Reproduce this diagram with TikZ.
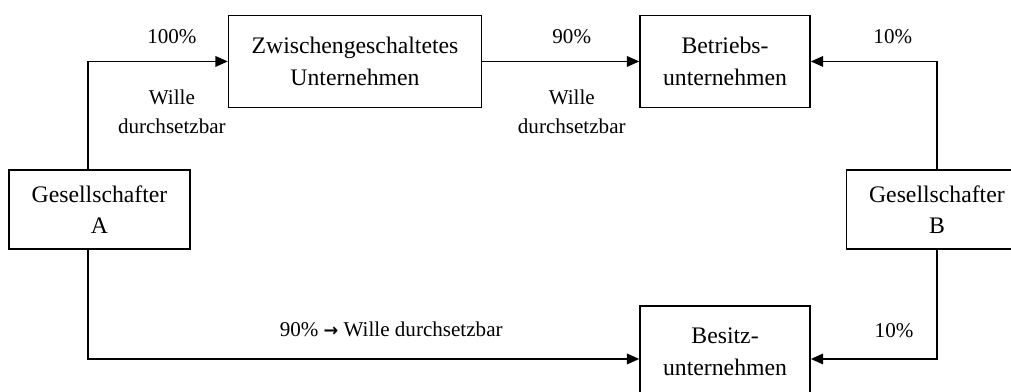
\documentclass[tikz,border=0pt]{standalone}
\usepackage{fontspec}
\setmainfont{Liberation Serif}
\newfontfamily\arrowfont{DejaVu Sans}
\usetikzlibrary{positioning,arrows.meta}

\begin{document}
\begin{tikzpicture}[
    x=0.02cm, y=-0.02cm,
    e/.style={
        draw, line width=0.9pt, align=center, inner sep=0pt,
        minimum height=1.84cm,
        font=\fontsize{13.5}{18}\selectfont
    },
    l/.style={
        line width=0.9pt,
        -{Triangle[length=7pt,width=6pt]}
    },
    t/.style={inner sep=0pt, align=center, font=\fontsize{12}{16.5}\selectfont}
]

\useasboundingbox (0,0) rectangle (1011,392);
\clip (0,0) rectangle (1011,392);

\node [e, minimum width=3.62cm, minimum height=1.58cm] (GA) at (99.5,209.5) {Gesellschafter\\A};
\node [e, minimum width=5.06cm, above right=1.22cm and 0.74cm of GA] (ZU) {Zwischengeschaltetes\\Unternehmen};
\node [e, minimum width=3.4cm, right=3.14cm of ZU] (BU) {Betriebs-\\unternehmen};
\node [e, minimum width=3.62cm, minimum height=1.58cm, right=13.1cm of GA] (GB) {Gesellschafter\\B};
\node [e, minimum width=3.4cm, below=3.94cm of BU] (SU) {Besitz-\\unternehmen};

\draw [l] ([xshift=-0.23cm]GA.north) |- node [t, pos=0.8, above=0.34cm] {100\%}
    node [t, pos=0.8, below=0.56cm] {Wille\\durchsetzbar} (ZU.west);
\draw [l] (ZU.east) -- node [t, pos=0.57, above=0.34cm] {90\%}
    node [t, pos=0.57, below=0.56cm] {Wille\\durchsetzbar} (ZU.east -| BU.west);
\draw [l] (GB.north) |- node [t, pos=0.675, above=0.34cm] {10\%} (BU.east);

\draw [l] ([xshift=-0.23cm]GA.south) |- node [t, pos=0.775, above=0.42cm]
    {90\% {\arrowfont\bfseries\fontsize{10}{12}\selectfont →} Wille durchsetzbar} ([yshift=-0.14cm]SU.west);
\draw [l] (GB.south) |- node [t, pos=0.67, above=0.4cm] {10\%} ([yshift=-0.14cm]SU.east);

\end{tikzpicture}
\end{document}
